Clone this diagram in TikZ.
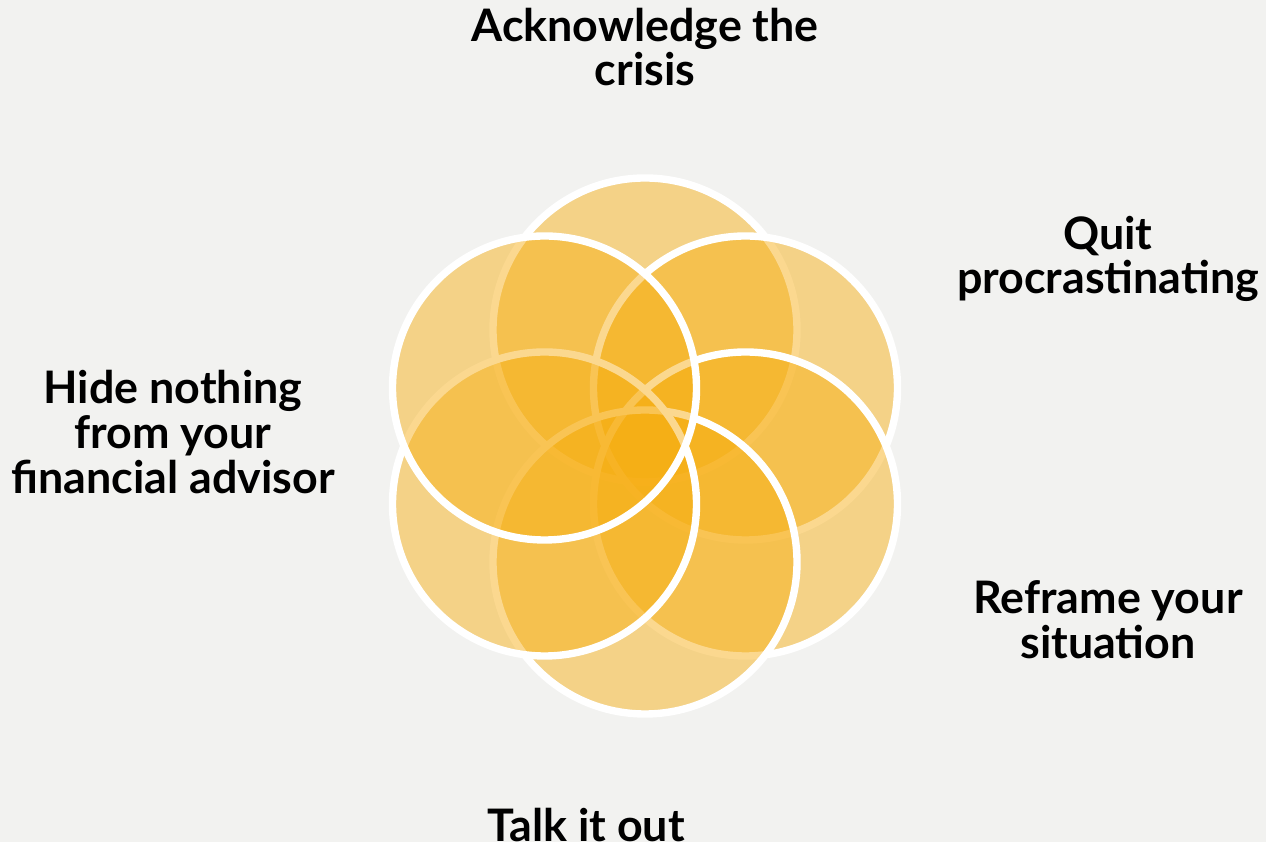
\documentclass[tikz,border=0pt]{standalone}
\usepackage{fontspec}
\setmainfont{Lato}
\definecolor{bgpaper}{RGB}{242, 242, 240}
\definecolor{gold1}{RGB}{247, 174, 18}
\usetikzlibrary{positioning}

\begin{document}
\begin{tikzpicture}[
  ring/.style={circle, draw=white, line width=4.2pt, fill=gold1, fill opacity=0.47, draw opacity=1, minimum size=6.08cm, inner sep=0pt},
  lbl/.style={align=center, font=\fontsize{25.5}{25.5}\selectfont\bfseries, text=black}
]
  % Background
  \fill[bgpaper] (0, 0) rectangle (25.32, 16.84);
  \useasboundingbox (0, 0) rectangle (25.32, 16.84);

  % Rings, clockwise from the top
  \node[ring] (top) at (12.9, 10.24) {};
  \node[ring] (upr) at (14.91, 9.08) {};
  \node[ring] (lwr) at (14.91, 6.76) {};
  \node[ring] (bot) at (12.9, 5.6) {};
  \node[ring] (lwl) at (10.89, 6.76) {};
  \node[ring] (upl) at (10.89, 9.08) {};

  % Labels
  \node[lbl] (ack) at (12.9, 15.9) {Acknowledge the\\crisis};
  \node[lbl] (quit) at (22.16, 11.66) {Quit\\procrastinating};
  \node[lbl] (refr) at (22.16, 4.45) {Reframe your\\situation};
  \node[lbl] (talk) at (11.72, 0.34) {Talk it out};
  \node[lbl] (hide) at (3.46, 8.2) {Hide nothing\\from your\\financial advisor};
\end{tikzpicture}
\end{document}
